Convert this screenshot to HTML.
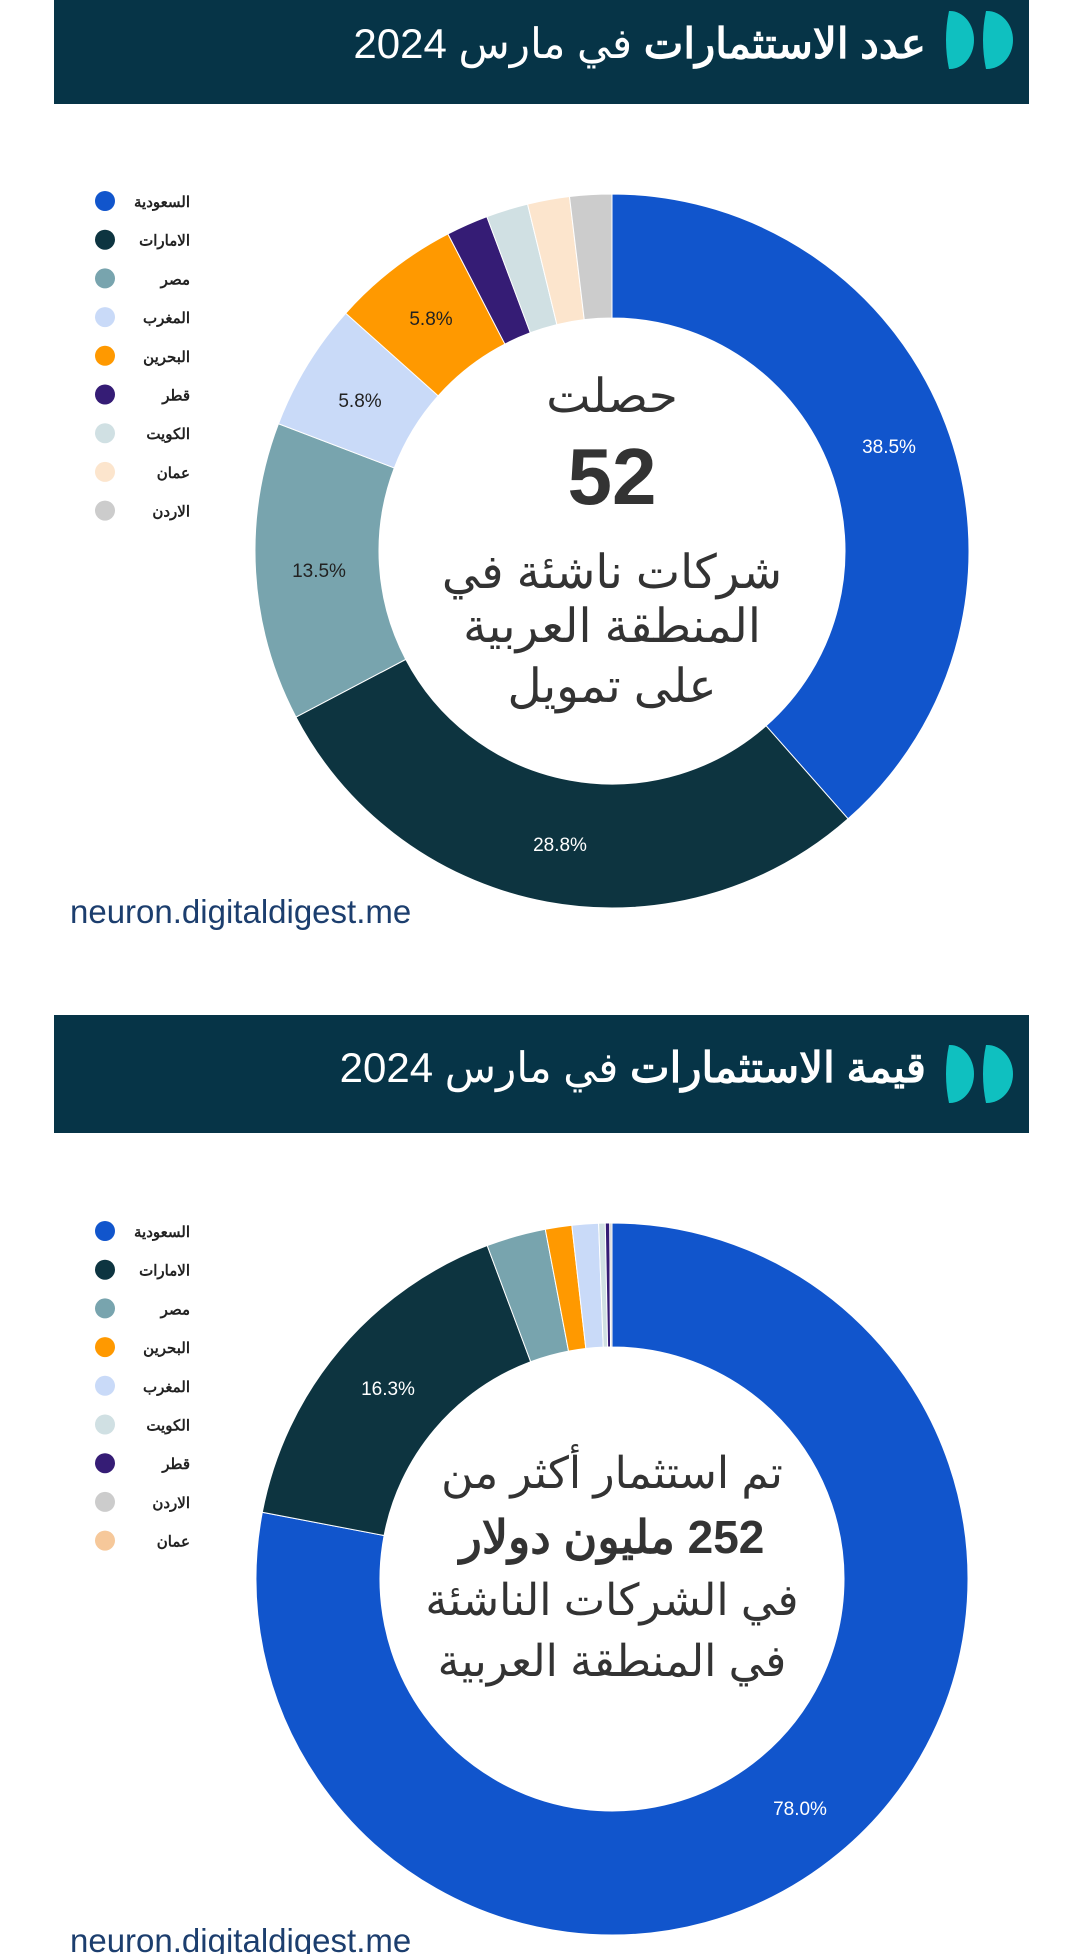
<!DOCTYPE html>
<html><head><meta charset="utf-8">
<style>
html,body{margin:0;padding:0;background:#fff;width:1080px;height:1954px;overflow:hidden;position:relative}
.hdr{position:absolute;left:54px;width:975px;background:#063447;}
.ttl{position:absolute;right:110px;color:#fff;font-family:"Liberation Sans","Noto Sans CJK SC",sans-serif;font-size:42px;direction:rtl;white-space:nowrap}
.ttl b{font-weight:bold}
.url{position:absolute;left:70px;font-family:"Liberation Sans",sans-serif;font-size:33px;color:#1c3e6e}
svg{position:absolute;left:0;top:0}
</style></head><body>
<div class="hdr" style="top:0;height:104px"></div>
<div class="ttl" style="top:19px;right:154px"><b>عدد الاستثمارات</b> في مارس 2024</div>
<div class="hdr" style="top:1015px;height:118px"></div>
<div class="ttl" style="top:1043px;right:154px"><b>قيمة الاستثمارات</b> في مارس 2024</div>
<div class="url" style="top:893px">neuron.digitaldigest.me</div>
<div class="url" style="top:1922px">neuron.digitaldigest.me</div>
<svg id="s" width="1080" height="1954" xmlns="http://www.w3.org/2000/svg"></svg>
<script>
var C={sa:"#1155cc",ae:"#0d3440",eg:"#78a4ae",ma:"#c9daf8",bh:"#ff9900",qa:"#351c75",kw:"#d0e0e3",om:"#fce5cd",jo:"#cccccc"};
var s="";
function D(x,y,w,h){s+='<path d="M'+(x+3)+' '+y+' H'+(x+4)+' A'+(w-4)+' '+(h/2)+' 0 0 1 '+(x+4)+' '+(y+h)+' H'+(x+3)+' Q'+(x-3)+' '+(y+h/2)+' '+(x+3)+' '+y+' Z" fill="#0fc0c0"/>';}
function logo(y){D(946,y,28,58);D(983,y,30,58);}
logo(11);logo(1045);
function donut(cx,cy,R,r,data){var a=0;data.forEach(function(d){var a2=a+d[1]/100*2*Math.PI;
 var p=function(rr,t){return (cx+rr*Math.sin(t)).toFixed(2)+" "+(cy-rr*Math.cos(t)).toFixed(2)};
 var lg=(a2-a)>Math.PI?1:0;
 s+='<path d="M'+p(R,a)+' A'+R+' '+R+' 0 '+lg+' 1 '+p(R,a2)+' L'+p(r,a2)+' A'+r+' '+r+' 0 '+lg+' 0 '+p(r,a)+'Z" fill="'+C[d[0]]+'" stroke="#fff" stroke-width="1"/>';a=a2;});}
donut(612,551,357,233,[["sa",38.5],["ae",28.8],["eg",13.5],["ma",5.8],["bh",5.8],["qa",1.9],["kw",1.9],["om",1.9],["jo",1.9]]);
donut(612,1579,356,232,[["sa",78.0],["ae",16.3],["eg",2.7],["bh",1.2],["ma",1.2],["kw",0.3],["qa",0.2],["jo",0.1]]);
function t(x,y,txt,sz,col,w,anc,fam){s+='<text x="'+x+'" y="'+y+'" font-size="'+sz+'" fill="'+col+'" font-weight="'+(w||"normal")+'" text-anchor="'+(anc||"middle")+'" font-family="'+(fam||"Liberation Sans, Noto Sans CJK SC, sans-serif")+'" direction="rtl">'+txt+'</text>';}
t(889,453,"38.5%",19,"#fff");t(560,851,"28.8%",19,"#fff");t(319,577,"13.5%",19,"#222");t(360,407,"5.8%",19,"#222");t(431,325,"5.8%",19,"#222");
t(388,1395,"16.3%",19,"#fff");t(800,1815,"78.0%",19,"#fff");
t(612,412,"حصلت",47,"#333");t(612,504,"52",80,"#333","bold");t(612,588,"شركات ناشئة في",47,"#333");t(612,642,"المنطقة العربية",47,"#333");t(612,702,"على تمويل",47,"#333");
t(612,1488,"تم استثمار أكثر من",44,"#333");t(612,1553,"252 مليون دولار",46,"#333","bold");t(612,1615,"في الشركات الناشئة",44,"#333");t(612,1676,"في المنطقة العربية",44,"#333");
function leg(y0,items){items.forEach(function(it,i){var y=y0+i*38.7;s+='<circle cx="105" cy="'+y+'" r="10" fill="'+it[1]+'"/>';t(190,y+6,it[0],15,"#222","bold","start");});}
leg(201,[["السعودية",C.sa],["الامارات",C.ae],["مصر",C.eg],["المغرب",C.ma],["البحرين",C.bh],["قطر",C.qa],["الكويت",C.kw],["عمان",C.om],["الاردن",C.jo]]);
leg(1231,[["السعودية",C.sa],["الامارات",C.ae],["مصر",C.eg],["البحرين",C.bh],["المغرب",C.ma],["الكويت",C.kw],["قطر",C.qa],["الاردن",C.jo],["عمان","#f6c89a"]]);
document.getElementById("s").innerHTML=s;
</script>
</body></html>
